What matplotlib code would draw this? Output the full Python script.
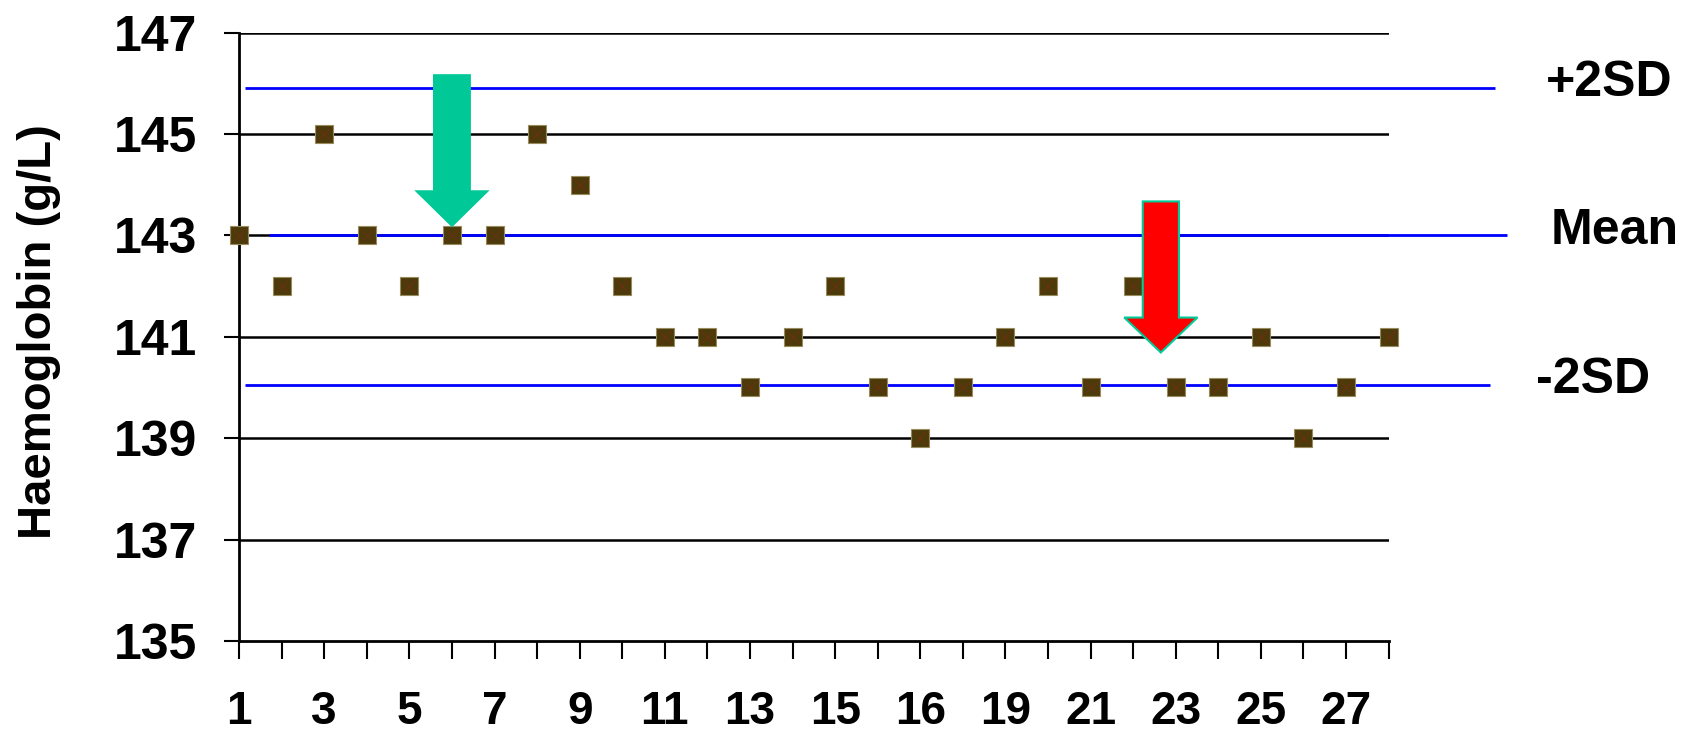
import matplotlib
matplotlib.use("Agg")
import matplotlib.pyplot as plt
from matplotlib.patches import FancyArrow

# run number and haemoglobin result (g/L)
runs = list(range(1, 29))
hb = [143, 142, 145, 143, 142, 143, 143, 145, 144, 142,
      141, 141, 140, 141, 142, 140, 139, 140, 141, 142,
      140, 142, 140, 140, 141, 139, 140, 141]

# tick labels as printed on the original (note the "16" where 17 should be)
x_ticklabels = ['1', '', '3', '', '5', '', '7', '', '9', '', '11', '', '13', '',
                '15', '', '16', '', '19', '', '21', '', '23', '', '25', '', '27', '']
y_ticks = [135, 137, 139, 141, 143, 145, 147]

# control limits
limit_names = ['+2SD', 'Mean', '-2SD']
limit_values = [145.9, 143.0, 140.05]

plt.rcParams['font.family'] = ['Liberation Sans', 'DejaVu Sans']
plt.rcParams['font.weight'] = 'bold'

fig = plt.figure(figsize=(16.98, 7.41), dpi=100)
ax = fig.add_axes([0.1408, 0.135, 0.677, 0.821])

ax.set_xlim(1, 28)
ax.set_ylim(135, 147)

# black horizontal gridlines
for v in y_ticks[1:]:
    ax.axhline(v, color='black', lw=1.8, zorder=1)

# blue control lines, running past the right edge of the plot
line_spans = [(1.14, 30.51), (1.70, 30.77), (1.14, 30.39)]
for name, v, (x0, x1) in zip(limit_names, limit_values, line_spans):
    ax.plot([x0, x1], [v, v], color='#0000ff', lw=2.0, zorder=2, clip_on=False,
            solid_capstyle='butt')

label_x = [31.7, 31.8, 31.45]
for name, v, lx in zip(limit_names, limit_values, label_x):
    ax.text(lx, v - 0.16, name, fontsize=36, fontweight='bold', ha='left',
            va='baseline', clip_on=False)

# data points: dark squares with a faint red cross
ax.plot(runs, hb, ls='none', marker='s', markersize=13, markerfacecolor='#4b3b0b',
        markeredgecolor='#9a8a60', markeredgewidth=0.8, zorder=4, clip_on=False)
ax.plot(runs, hb, ls='none', marker='x', markersize=9, markeredgecolor='#7a2a12',
        markeredgewidth=1.0, alpha=0.6, zorder=5, clip_on=False)

# arrows
ax.add_patch(FancyArrow(6, 146.18, 0, -3.02, width=0.89, head_width=1.77,
                        head_length=0.73, length_includes_head=True,
                        facecolor='#00c896', edgecolor='none', zorder=6))
ax.add_patch(FancyArrow(22.65, 143.67, 0, -2.98, width=0.85, head_width=1.72,
                        head_length=0.69, length_includes_head=True,
                        facecolor='#ff0000', edgecolor='#00cc99', lw=1.5, zorder=6))

ax.set_xticks(runs)
ax.set_xticklabels(x_ticklabels)
ax.set_yticks(y_ticks)
ax.tick_params(axis='y', direction='out', length=11, width=1.5, pad=19, labelsize=36)
ax.tick_params(axis='x', direction='out', length=13, width=1.5, pad=22, labelsize=33)
for lab in ax.get_xticklabels() + ax.get_yticklabels():
    lab.set_fontweight('bold')

for s in ['top', 'right']:
    ax.spines[s].set_visible(False)
for s in ['left', 'bottom']:
    ax.spines[s].set_linewidth(2)
    ax.spines[s].set_zorder(3)

fig.text(0.023, 0.552, 'Haemoglobin (g/L)', rotation=90, ha='center', va='center',
         fontsize=34, fontweight='bold')

fig.savefig('out.png', dpi=100)
